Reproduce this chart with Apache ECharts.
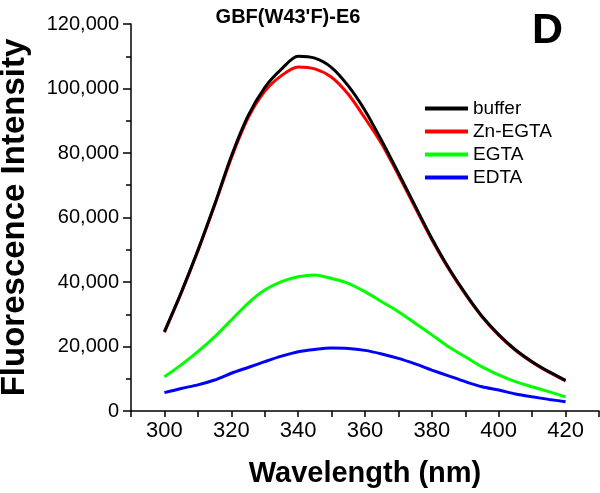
<!DOCTYPE html>
<html>
<head>
<meta charset="utf-8">
<script src="https://cdn.jsdelivr.net/npm/echarts@6/dist/echarts.min.js"></script>
<style>
html,body{margin:0;padding:0;background:#fff;}
#chart{width:600px;height:493px;}
</style>
</head>
<body>
<div id="chart"></div>
<script>
var wavelengths = [300, 305, 310, 315, 320, 325, 330, 335, 340, 345, 350, 355, 360, 365, 370, 375, 380, 385, 390, 395, 400, 405, 410, 415, 420];
var bufferVals  = [24600, 36700, 49800, 64000, 79000, 91500, 100300, 106000, 110000, 109400, 106500, 100800, 93200, 83800, 73800, 63600, 53500, 44400, 36500, 29400, 23700, 19000, 15300, 12200, 9500];
var znEgtaVals  = [24400, 36500, 49600, 63700, 78400, 90800, 99100, 104000, 106700, 106100, 103500, 98200, 90800, 82800, 73200, 63100, 53100, 44100, 36200, 29200, 23500, 18800, 15100, 12000, 9300];
var egtaVals    = [10600, 14300, 18400, 23000, 28200, 33400, 37500, 40100, 41600, 42200, 41100, 39600, 37000, 33900, 30800, 27200, 23600, 19900, 16800, 13700, 11200, 9100, 7500, 6000, 4400];
var edtaVals    = [5700, 7000, 8100, 9600, 11700, 13500, 15300, 17000, 18400, 19100, 19500, 19400, 18800, 17700, 16300, 14600, 12700, 10900, 9100, 7500, 6500, 5300, 4400, 3600, 2900];
var seriesNames = ['buffer', 'Zn-EGTA', 'EGTA', 'EDTA'];
var seriesColors = ['#000000', '#ff0000', '#00ff00', '#0000ff'];
var allVals = [bufferVals, znEgtaVals, egtaVals, edtaVals];

function pairs(vals) {
  return wavelengths.map(function (w, i) { return [w, vals[i]]; });
}
var FONT = 'Arial, "Liberation Sans", Helvetica, sans-serif';

var chart = echarts.init(document.getElementById('chart'), null, {renderer: 'canvas'});
chart.setOption({
  animation: false,
  backgroundColor: '#ffffff',
  title: [
    {text: "GBF(W43'F)-E6", left: 283, top: 2, textAlign: 'center',
     textStyle: {fontFamily: FONT, fontWeight: 'bold', fontSize: 20, color: '#000'}},
    {text: 'D', left: 527, top: 5,
     textStyle: {fontFamily: FONT, fontWeight: 'bold', fontSize: 43, color: '#000'}}
  ],
  legend: {
    orient: 'vertical', left: 420, top: 94,
    itemWidth: 43, itemHeight: 4, itemGap: 4, icon: 'rect',
    textStyle: {fontFamily: FONT, fontSize: 19, color: '#000'},
    data: seriesNames
  },
  grid: {left: 131, right: 1, top: 24, bottom: 82, containLabel: false, outerBoundsMode: 'none'},
  xAxis: {
    type: 'value', min: 290, max: 430, interval: 10,
    name: 'Wavelength (nm)', nameLocation: 'middle', nameGap: 48,
    nameTextStyle: {fontFamily: FONT, fontWeight: 'bold', fontSize: 29, color: '#000'},
    axisLine: {show: true, onZero: false, lineStyle: {color: '#000', width: 1.5}},
    axisTick: {show: true, inside: false, length: 6, lineStyle: {color: '#000', width: 1.5}},
    axisLabel: {fontFamily: FONT, fontSize: 22, color: '#000', margin: 9,
      formatter: function (v) { return ((v - 300) % 20 === 0) ? String(v) : ''; }},
    splitLine: {show: false}
  },
  yAxis: {
    type: 'value', min: 0, max: 120000, interval: 20000,
    name: 'Fluorescence Intensity', nameLocation: 'middle', nameGap: 100,
    nameTextStyle: {fontFamily: FONT, fontWeight: 'bold', fontSize: 33, color: '#000'},
    axisLine: {show: true, lineStyle: {color: '#000', width: 1.5}},
    axisTick: {show: true, inside: false, length: 8, lineStyle: {color: '#000', width: 1.5}},
    minorTick: {show: true, splitNumber: 2, length: 5, lineStyle: {color: '#000', width: 1.5}},
    axisLabel: {fontFamily: FONT, fontSize: 20, color: '#000', margin: 12,
      formatter: function (v) { return v.toLocaleString('en-US'); }},
    splitLine: {show: false},
    minorSplitLine: {show: false}
  },
  series: seriesNames.map(function (n, i) {
    return {
      name: n, type: 'line', data: pairs(allVals[i]), smooth: 0.3,
      showSymbol: false, symbol: 'none',
      lineStyle: {color: seriesColors[i], width: 3},
      itemStyle: {color: seriesColors[i]},
      z: 10 - i
    };
  })
});
</script>
</body>
</html>
